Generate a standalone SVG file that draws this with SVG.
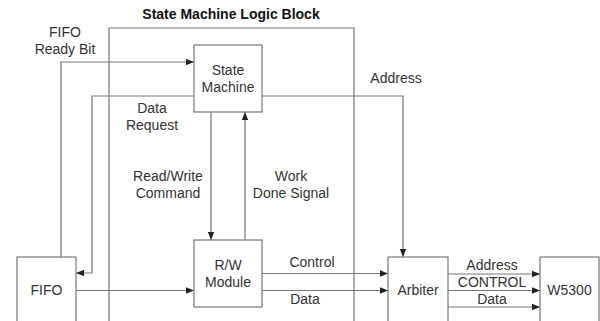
<svg xmlns="http://www.w3.org/2000/svg" width="600" height="321" viewBox="0 0 600 321">
<defs>
<style>
.box{fill:#fff;stroke:#777;stroke-width:1.2}
.ln{fill:none;stroke:#777;stroke-width:1.2}
.t{font-family:"Liberation Sans",Arial,sans-serif;font-size:14px;fill:#333;text-anchor:middle}
.b{font-weight:bold;fill:#111}
</style>
<marker id="ah" viewBox="0 0 8 8" refX="8" refY="4" markerWidth="8" markerHeight="8" markerUnits="userSpaceOnUse" orient="auto">
<path d="M0,0.8 L8,4 L0,7.2 Z" fill="#222"/>
</marker>
</defs>
<rect width="600" height="321" fill="#fff"/>
<g id="logic-block">
<path class="ln" d="M109,330 V28 H354 V330"/>
<text class="t b" x="231" y="19">State Machine Logic Block</text>
</g>
<g id="connectors">
<path class="ln" d="M61,257 V62 H194" marker-end="url(#ah)"/>
<path class="ln" d="M194,96 H92 V273 H76" marker-end="url(#ah)"/>
<path class="ln" d="M76,290.5 H194" marker-end="url(#ah)"/>
<path class="ln" d="M211,112 V240" marker-end="url(#ah)"/>
<path class="ln" d="M245,240 V112" marker-end="url(#ah)"/>
<path class="ln" d="M262,96 H403 V257" marker-end="url(#ah)"/>
<path class="ln" d="M262,273.5 H388" marker-end="url(#ah)"/>
<path class="ln" d="M262,290.5 H388" marker-end="url(#ah)"/>
<path class="ln" d="M448,274 H540" marker-end="url(#ah)"/>
<path class="ln" d="M448,290.5 H540" marker-end="url(#ah)"/>
<path class="ln" d="M448,307 H540" marker-end="url(#ah)"/>
<text class="t" x="65" y="37">FIFO</text>
<text class="t" x="65" y="54">Ready Bit</text>
<text class="t" x="152" y="113">Data</text>
<text class="t" x="152" y="130">Request</text>
<text class="t" x="168" y="181">Read/Write</text>
<text class="t" x="168" y="198">Command</text>
<text class="t" x="291" y="181">Work</text>
<text class="t" x="291" y="198">Done Signal</text>
<text class="t" x="396" y="83">Address</text>
<text class="t" x="312" y="267">Control</text>
<text class="t" x="305" y="304">Data</text>
<text class="t" x="492" y="270">Address</text>
<text class="t" x="492" y="287">CONTROL</text>
<text class="t" x="492" y="304">Data</text>
</g>
<g id="state-machine">
<rect class="box" x="194" y="45" width="68" height="67"/>
<text class="t" x="228" y="75">State</text>
<text class="t" x="228" y="92">Machine</text>
</g>
<g id="rw-module">
<rect class="box" x="194" y="240" width="68" height="67"/>
<text class="t" x="228" y="270">R/W</text>
<text class="t" x="228" y="287">Module</text>
</g>
<g id="fifo">
<rect class="box" x="17" y="257" width="59" height="80"/>
<text class="t" x="46.5" y="295">FIFO</text>
</g>
<g id="arbiter">
<rect class="box" x="388" y="257" width="60" height="80"/>
<text class="t" x="418" y="295">Arbiter</text>
</g>
<g id="w5300">
<rect class="box" x="540" y="257" width="59" height="80"/>
<text class="t" x="569.5" y="295">W5300</text>
</g>
</svg>
